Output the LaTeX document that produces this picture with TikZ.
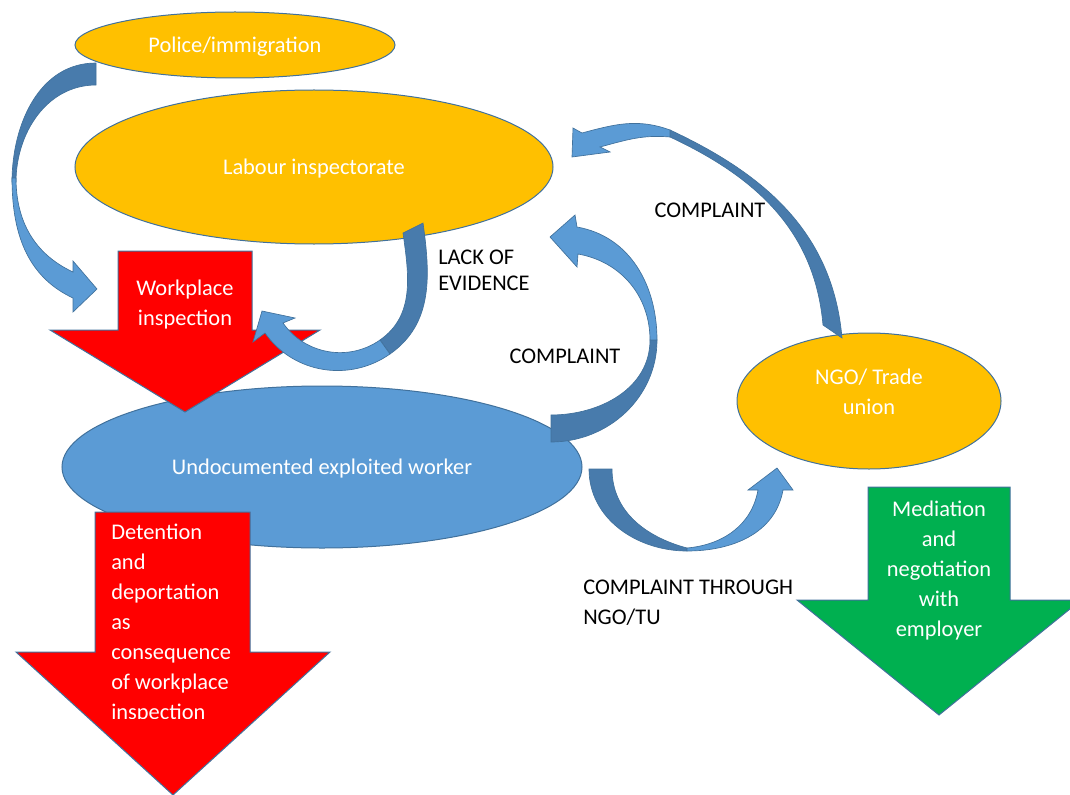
\documentclass[tikz,border=0pt]{standalone}
\usepackage{fontspec}
\setmainfont{Carlito}
\usepackage{tikz}
\usetikzlibrary{shapes.geometric}
\usetikzlibrary{positioning}
\definecolor{edgeblue}{RGB}{65,113,156}
\definecolor{bandlight}{RGB}{91,155,213}
\definecolor{banddark}{RGB}{72,123,172}
\definecolor{gold}{RGB}{255,192,0}
\definecolor{alarmred}{RGB}{255,0,0}
\definecolor{okgreen}{RGB}{0,176,80}
\newcommand{\boxfont}{\fontsize{16.8pt}{22.5pt}\selectfont}
\newcommand{\tagfont}{\fontsize{16.8pt}{19.5pt}\selectfont}
\tikzset{
    bubble/.style = {ellipse,draw=edgeblue,line width=0.75pt,inner sep=0pt,text=white,font=\boxfont,text depth=0pt},
    blockarrow/.style = {draw=edgeblue,line width=0.75pt},
    intext/.style = {text=white,font=\boxfont,inner sep=0pt},
    outtext/.style = {text=black,font=\boxfont,inner sep=0pt,align=left},
    backband/.style = {fill=banddark,draw=edgeblue,line width=0.5pt},
    frontband/.style = {fill=bandlight,draw=edgeblue,line width=0.5pt}}

\begin{document}
\begin{tikzpicture}[x=0.75pt,y=-0.75pt]
\clip (0,0) rectangle (1070,795);
\node[bubble,fill=gold,minimum width=358.5pt,minimum height=115.5pt] (labour) at (314,167) {Labour inspectorate};
\node[bubble,fill=gold,minimum width=240pt,minimum height=49.5pt] (police) at (235,45) {Police/immigration};
\node[bubble,fill=bandlight,minimum width=390pt,minimum height=121.5pt] (worker) at (322,467) {Undocumented exploited worker};
\node[bubble,fill=gold,minimum width=198pt,minimum height=102pt] (ngo) at (869,401) {};
\node[intext,align=center] (ngotext) at (869,392) {NGO/ Trade\\union};

\draw[blockarrow,fill=alarmred] (118,251) -- (252,251) -- (252,330) -- (320,330) -- (185,412) -- (50,330) -- (118,330) -- cycle;
\node[intext,align=center] (workplace) at (185,305) {Workplace\\inspection};
\draw[blockarrow,fill=alarmred] (95,512) -- (250,512) -- (250,652) -- (330,652) -- (173,795) -- (16,652) -- (95,652) -- cycle;
\begin{scope}
    \clip (0,512) rectangle (400,718);
    \node[intext,align=left,anchor=west] (detention) at (111,624) {Detention\\and\\deportation\\as\\consequence\\of workplace\\inspection};
\end{scope}
\draw[blockarrow,fill=okgreen] (868,487) -- (1010,487) -- (1010,600) -- (1081,600) -- (939,715) -- (797,600) -- (868,600) -- cycle;
\node[intext,align=center] (mediation) at (939,571) {Mediation\\and\\negotiation\\with\\employer};

\path[backband] (96,63) to[out=180,in=90] (12,182) -- (16,182) to[out=90,in=180] (96,85) -- cycle;
\path[frontband] (12,178) to[out=-90,in=155] (73,298) -- (73,312) -- (97,289) -- (73,261) -- (73,272) to[out=155,in=-90] (16,178) -- cycle;

\path[backband] (423,223) to[out=-82,in=35] (390,354) -- (380,340) to[out=35,in=-82] (403,233) -- cycle;
\path[frontband] (390,354) to[out=-145,in=-55] (265,333) -- (253,342) -- (262,311) -- (295,318) -- (283,323) to[out=-55,in=-145] (380,340) -- cycle;

\path[backband] (551,442) to[out=0,in=-90] (657,340) -- (650,340) to[out=-90,in=0] (551,415) -- cycle;
\path[frontband] (657,340) to[out=90,in=-10] (577,227) -- (575,215) -- (550,237) -- (577,267) -- (578,254) to[out=-10,in=90] (650,340) -- cycle;

\path[backband] (842,338) to[out=95,in=-25] (670,130) -- (670,137) to[out=-25,in=95] (823,325) -- cycle;
\path[frontband] (670,130) to[out=160,in=15] (582,133) -- (573,128) -- (572,157) -- (610,152) -- (600,147) to[out=15,in=175] (670,137) -- cycle;

\path[backband] (589,469) to[out=-90,in=180] (687,551) -- (687,548) to[out=165,in=-90] (612,469) -- cycle;
\path[frontband] (687,551) to[out=0,in=-100] (783,490) -- (793,490) -- (777,468) -- (748,490) -- (758,490) to[out=-100,in=5] (687,548) -- cycle;

\node[outtext,font=\tagfont,anchor=west] (lackev) at (438,270) {LACK OF\\EVIDENCE};
\node[outtext] (cmpngo) at (710,210) {COMPLAINT};
\node[outtext] (cmpworker) at (565,356) {COMPLAINT};
\node[outtext,anchor=west] (cmpthrough) at (583,603) {COMPLAINT THROUGH\\NGO/TU};
\end{tikzpicture}
\end{document}
